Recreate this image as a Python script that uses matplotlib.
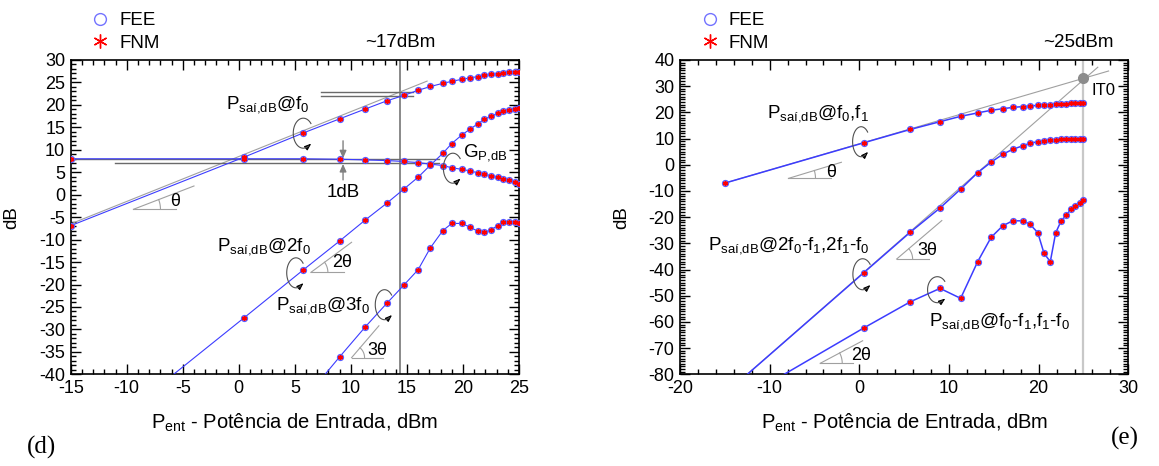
import numpy as np
import matplotlib
matplotlib.use('Agg')
import matplotlib.pyplot as plt
from matplotlib.lines import Line2D
from matplotlib.ticker import MultipleLocator
from matplotlib.transforms import IdentityTransform

plt.rcParams['font.family'] = ['Liberation Sans', 'DejaVu Sans']
plt.rcParams['mathtext.fontset'] = 'custom'
plt.rcParams['mathtext.rm'] = 'Liberation Sans'
plt.rcParams['mathtext.it'] = 'Liberation Sans:italic'
plt.rcParams['mathtext.default'] = 'regular'
plt.rcParams['axes.unicode_minus'] = False

# potencia de entrada (dBm), mesma varredura nos dois graficos
p_ent = [-15, 0.5, 5.7, 9.0, 11.3, 13.2, 14.7, 16.0, 17.1, 18.2, 19.0,
         19.9, 20.6, 21.3, 21.9, 22.5, 23.1, 23.6, 24.1, 24.6, 25.0]

# (d) tom unico
p_f0 = [-6.9, 8.4, 13.7, 16.9, 19.1, 20.9, 22.1, 23.25, 24.1, 24.8, 25.25,
        25.7, 26.0, 26.3, 26.6, 26.8, 26.95, 27.1, 27.25, 27.3, 27.4]
ganho = [8.0, 8.0, 8.0, 7.9, 7.75, 7.6, 7.4, 7.15, 6.8, 6.5, 6.0,
         5.65, 5.3, 4.9, 4.55, 4.25, 3.85, 3.5, 3.2, 2.75, 2.45]
p_2f0 = [-58.4, -27.35, -16.85, -10.3, -5.6, -1.9, 1.2, 3.9, 6.6, 9.2, 11.4,
         13.3, 14.55, 15.75, 16.8, 17.5, 18.1, 18.6, 18.85, 19.1, 19.2]
p_3f0 = [-108.0, -61.6, -46.0, -36.1, -29.4, -24.2, -20.2, -16.7, -11.8, -8.0, -6.4,
         -6.4, -7.2, -8.1, -8.4, -7.8, -6.9, -6.1, -6.05, -6.1, -6.2]

# (e) dois tons
p_f0f1 = [-7.0, 8.4, 13.5, 16.45, 18.5, 19.8, 20.8, 21.4, 21.9, 22.2, 22.4,
          22.7, 22.8, 22.95, 23.1, 23.2, 23.3, 23.4, 23.5, 23.5, 23.6]
p_im3 = [-87.5, -41.2, -25.7, -16.5, -9.3, -3.0, 1.0, 4.0, 5.9, 7.2, 8.2,
         8.8, 9.2, 9.45, 9.6, 9.7, 9.8, 9.9, 9.9, 9.95, 10.0]
p_im2 = [-93.2, -62.3, -52.3, -47.2, -51.0, -37.0, -27.7, -23.3, -21.4, -21.4, -22.6,
         -25.9, -33.8, -37.0, -26.0, -21.5, -19.1, -17.0, -15.6, -14.5, -13.6]

# retas de extrapolacao / marcas
ext_f0_d = ([-15, 16.8], [-6.5, 25.3])
ext_f0_e = ([-15, 27.8], [-7.0, 35.8])
ext_im3_e = ([-12.5, 26.6], [-80.0, 37.25])
p1db = 14.4
it0 = (25.0, 33.0)

AZUL = '#3c3cff'
CINZA = '#a0a0a0'
ESCURO = '#6a6a6a'
FS = 13.5      # rotulos
FT = 13        # numeros dos eixos
FA = 13.5      # anotacoes P_sai


def curva(ax, x, y, lw):
    ax.plot(x, y, color=AZUL, lw=lw, zorder=3)
    ax.plot(x, y, ls='none', marker='o', ms=4.2, mfc='none', mec='#5a5aff', mew=1.0, zorder=4)
    ax.plot(x, y, ls='none', marker=(6, 2, 0), ms=3.4, mec='red', mew=1.1, zorder=5)


def eixos(ax, xlim, ylim, xmaj, xmin, ymaj, ymin):
    ax.set_xlim(xlim)
    ax.set_ylim(ylim)
    ax.xaxis.set_major_locator(MultipleLocator(xmaj))
    ax.xaxis.set_minor_locator(MultipleLocator(xmin))
    ax.yaxis.set_major_locator(MultipleLocator(ymaj))
    ax.yaxis.set_minor_locator(MultipleLocator(ymin))
    ax.tick_params(which='both', direction='in', top=True, right=True, width=1,
                   labelsize=FT, colors='black')
    ax.tick_params(which='major', length=7, pad=4)
    ax.tick_params(which='minor', length=3.5)
    for s in ax.spines.values():
        s.set_linewidth(1.2)
    ax.set_xlabel('$P_{ent}$ - Potência de Entrada, dBm', fontsize=14.5)
    ax.set_ylabel('dB', fontsize=FS)
    ax.xaxis.set_label_coords(0.5, -0.118)
    ax.yaxis.set_label_coords(-0.112, 0.5)


def giro(ax, x, y, w, h):
    cx, cy = ax.transData.transform((x, y))
    t = np.radians(np.linspace(40, 300, 80))
    px = cx + w / 2 * np.cos(t)
    py = cy + h / 2 * np.sin(t)
    ax.plot(px, py, color='#505050', lw=0.8, transform=IdentityTransform(), zorder=6)
    tx, ty = -w / 2 * np.sin(t[-1]), h / 2 * np.cos(t[-1])
    n = np.hypot(tx, ty)
    ax.annotate('', xy=(px[-1] + 4 * tx / n, py[-1] + 4 * ty / n), xytext=(px[-1], py[-1]),
                xycoords='figure pixels', textcoords='figure pixels',
                arrowprops=dict(arrowstyle='-|>,head_length=0.4,head_width=0.15',
                                color='black', lw=0.8, shrinkA=0, shrinkB=0))


def angulo(ax, v, xh, p2, r, txt, tpos):
    ax.plot([v[0], xh], [v[1], v[1]], color=CINZA, lw=0.8, zorder=2)
    ax.plot([v[0], p2[0]], [v[1], p2[1]], color=CINZA, lw=0.8, zorder=2)
    (vx, vy), (qx, qy) = ax.transData.transform([v, p2])
    t = np.linspace(0, np.arctan2(qy - vy, qx - vx), 30)
    ax.plot(vx + r * np.cos(t), vy + r * np.sin(t), color=CINZA, lw=0.8,
            transform=IdentityTransform(), zorder=2)
    ax.text(tpos[0], tpos[1], txt, ha='center', va='center', fontsize=FT)


def legenda(ax):
    h = [Line2D([], [], ls='none', marker='o', ms=8.5, mfc='none', mec='#7373ff', mew=1.0),
         Line2D([], [], ls='none', marker=(6, 2, 0), ms=10, mec='red', mew=1.0)]
    ax.legend(h, ['FEE', 'FNM'], loc='upper left', bbox_to_anchor=(0.043, 1.152),
              frameon=False, fontsize=FS, handlelength=1.1, handletextpad=0.45,
              labelspacing=0.28, borderpad=0, borderaxespad=0)


fig = plt.figure(figsize=(11.59, 4.66), dpi=100)
ax1 = fig.add_axes([70.7 / 1159, 91.7 / 466, 448.3 / 1159, 314.3 / 466])
ax2 = fig.add_axes([680 / 1159, 91.7 / 466, 448.3 / 1159, 314.3 / 466])

# ---------------- (d)
eixos(ax1, (-15, 25), (-40, 30), 5, 1, 5, 1)
ax1.axvline(p1db, color=ESCURO, lw=1.1, zorder=2)
ax1.plot(*ext_f0_d, color=CINZA, lw=0.8, zorder=2)
ax1.plot([7.3, 15.5], [22.8, 22.8], color=ESCURO, lw=1.0, zorder=2)
ax1.plot([7.3, 15.5], [21.9, 21.9], color=ESCURO, lw=1.0, zorder=2)
ax1.plot([-15, 17.9], [7.95, 7.95], color=ESCURO, lw=1.0, zorder=2)
ax1.plot([-11.05, 17.9], [7.0, 7.0], color=ESCURO, lw=1.0, zorder=2)
for y in (p_f0, ganho, p_2f0, p_3f0):
    curva(ax1, p_ent, y, 0.8)

arr = dict(arrowstyle='-|>,head_length=0.45,head_width=0.2', color='#808080', lw=1.0,
           shrinkA=0, shrinkB=0)
ax1.annotate('', xy=(9.3, 8.1), xytext=(9.3, 12.0), arrowprops=arr)
ax1.annotate('', xy=(9.3, 6.85), xytext=(9.3, 3.3), arrowprops=arr)
ax1.text(9.3, -0.44, '1dB', ha='center', va='baseline', fontsize=FS)

ax1.text(-1.1, 19.25, '$P_{saí{,}dB}$@$f_0$', fontsize=FA, va='baseline')
ax1.text(20.0, 8.47, '$G_{P{,}dB}$', fontsize=FA, va='baseline')
ax1.text(-1.98, -12.45, '$P_{saí{,}dB}$@2$f_0$', fontsize=FA, va='baseline')
ax1.text(3.3, -25.5, '$P_{saí{,}dB}$@3$f_0$', fontsize=FA, va='baseline')
ax1.text(p1db, 1.055, '~17dBm', transform=ax1.get_xaxis_transform(), ha='center',
         va='center', fontsize=FS)

giro(ax1, 5.75, 13.7, 20, 30)
giro(ax1, 19.1, 5.9, 19, 30)
giro(ax1, 5.1, -17.4, 18.5, 30)
giro(ax1, 13.0, -24.5, 18.5, 30)
angulo(ax1, (-9.4, -3.25), -5.6, (-4.0, 1.94), 27, 'θ', (-5.7, -1.55))
angulo(ax1, (6.43, -17.3), 9.4, (10.06, -10.6), 17, '2θ', (9.23, -15.2))
angulo(ax1, (10.06, -36.3), 12.86, (12.5, -29.2), 13, '3θ', (12.37, -34.6))
legenda(ax1)

# ---------------- (e)
eixos(ax2, (-20, 30), (-80, 40), 10, 2, 10, 1)
ax2.axvline(it0[0], color='#c8c8c8', lw=1.6, zorder=2)
ax2.plot(*ext_f0_e, color=CINZA, lw=0.8, zorder=2)
ax2.plot(*ext_im3_e, color=CINZA, lw=0.8, zorder=2)
for y in (p_f0f1, p_im3, p_im2):
    curva(ax2, p_ent, y, 1.1)
ax2.plot(*it0, 'o', color='#8c8c8c', ms=7, zorder=6)
ax2.text(25.95, 26.6, 'IT0', fontsize=12, va='baseline')

ax2.text(-10.25, 18.1, '$P_{saí{,}dB}$@$f_0$,$f_1$', fontsize=FA, va='baseline')
ax2.text(-16.9, -32.4, '$P_{saí{,}dB}$@2$f_0$-$f_1$,2$f_1$-$f_0$', fontsize=FA, va='baseline')
ax2.text(7.8, -61.4, '$P_{saí{,}dB}$@$f_0$-$f_1$,$f_1$-$f_0$', fontsize=FA, va='baseline')
ax2.text(24.4, 1.055, '~25dBm', transform=ax2.get_xaxis_transform(), ha='center',
         va='center', fontsize=FS)

giro(ax2, 0.2, 8.8, 17, 30)
giro(ax2, 0.37, -41.8, 19.5, 31)
giro(ax2, 8.7, -47.7, 19.5, 26)
angulo(ax2, (-7.9, -5.2), -3.2, (-2.0, 0.95), 27, 'θ', (-3.18, -3.0))
angulo(ax2, (4.16, -36.0), 7.78, (9.2, -21.3), 16, '3θ', (7.57, -32.8))
angulo(ax2, (-4.36, -75.8), -0.74, (0.37, -67.2), 22, '2θ', (0.16, -72.8))
legenda(ax2)

fig.text(42 / 1159, 1 - 447 / 466, '(d)', family='Liberation Serif', fontsize=18,
         ha='center', va='center')
fig.text(1125 / 1159, 1 - 438 / 466, '(e)', family='Liberation Serif', fontsize=18,
         ha='center', va='center')

fig.savefig('out.png', dpi=100)
